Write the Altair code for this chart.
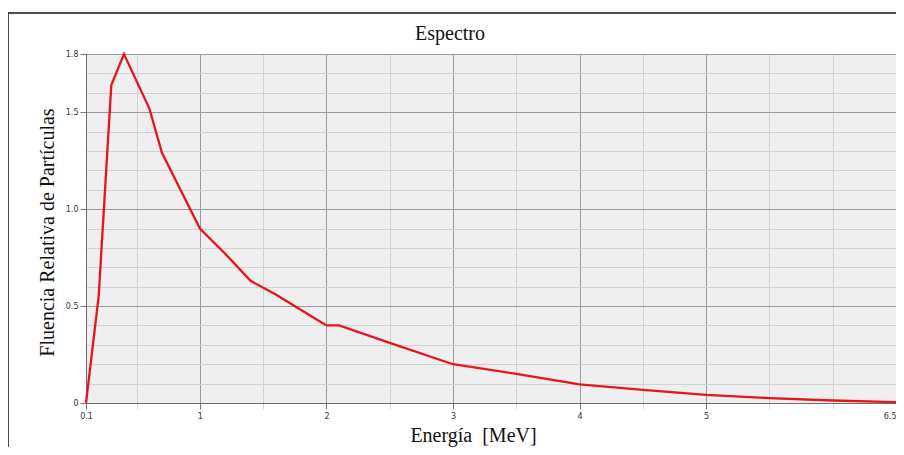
import altair as alt
import pandas as pd

# Spectrum values
energia = [0.1, 0.2, 0.3, 0.4, 0.6, 0.7, 1.0, 1.2, 1.4, 1.6, 1.8, 1.9, 2.0, 2.1,
           2.5, 3.0, 3.5, 4.0, 4.5, 5.0, 5.5, 6.0, 6.5]
fluencia = [0.0, 0.55, 1.64, 1.80, 1.52, 1.29, 0.90, 0.77, 0.63, 0.56, 0.48, 0.44, 0.40, 0.40,
            0.31, 0.20, 0.15, 0.096, 0.068, 0.042, 0.025, 0.013, 0.005]

# Axis ticks / grid positions
x_grid = [0.1, 0.5, 1, 1.5, 2, 2.5, 3, 3.5, 4, 4.5, 5, 5.5, 6, 6.5]
x_labels = [0.1, 1, 2, 3, 4, 5, 6.5]
y_grid = [0, 0.1, 0.2, 0.3, 0.4, 0.5, 0.6, 0.7, 0.8, 0.9, 1.0, 1.1, 1.2, 1.3,
          1.4, 1.5, 1.6, 1.7, 1.8]
y_labels = [0, 0.5, 1.0, 1.5, 1.8]
y_label_text = ["0", "0.5", "1.0", "1.5", "1.8"]

titulo = "Espectro"
titulo_x = "Energía\u00a0 [MeV]"
titulo_y = "Fluencia Relativa de Partículas"

df = pd.DataFrame({"Energia": energia, "Fluencia": fluencia})

x_major = "indexof(%s, datum.value) >= 0" % str(x_labels)
y_major = "indexof(%s, datum.value) >= 0" % str(y_labels)
y_label_expr = " : ".join(
    "datum.value == %s ? '%s'" % (v, t) for v, t in zip(y_labels, y_label_text)
) + " : ''"

x_axis = alt.Axis(
    values=x_grid,
    labelExpr=x_major + " ? toString(datum.value) : ''",
    title=titulo_x,
    titleFont="Liberation Serif", titleFontSize=20, titleFontWeight="normal",
    titleColor="#111111",
    titleX=387, titleY=38, titleBaseline="alphabetic", titleAlign="center",
    labelFont="DejaVu Sans", labelFontSize=8, labelColor="#333333",
    labelPadding=3, tickSize=6,
    labelAlign={"condition": {"test": "datum.value == 6.5", "value": "right"}, "value": "center"},
    gridColor={"condition": {"test": x_major, "value": "#9a9a9a"}, "value": "#d2d2d2"},
    tickColor={"condition": {"test": x_major, "value": "#777777"}, "value": "#d2d2d2"},
    domainColor="#6e6e6e", labelFlush=False, labelOverlap=False,
)

y_axis = alt.Axis(
    values=y_grid,
    labelExpr=y_label_expr,
    title=titulo_y,
    titleFont="Liberation Serif", titleFontSize=20, titleFontWeight="normal",
    titleColor="#111111",
    titleX=-33, titleY=178, titleBaseline="alphabetic", titleAlign="center", titleAngle=270,
    labelFont="DejaVu Sans", labelFontSize=8, labelColor="#333333",
    labelPadding=2, tickSize=6,
    gridColor={"condition": {"test": y_major, "value": "#9a9a9a"}, "value": "#d2d2d2"},
    tickColor={"condition": {"test": y_major, "value": "#777777"}, "value": "transparent"},
    domainColor="#6e6e6e", labelFlush=False, labelOverlap=False,
)

line = alt.Chart(df).mark_line(color="#e8141b", strokeWidth=2.3).encode(
    x=alt.X("Energia:Q", scale=alt.Scale(domain=[0.1, 6.5], nice=False, zero=False), axis=x_axis),
    y=alt.Y("Fluencia:Q", scale=alt.Scale(domain=[0, 1.8], nice=False), axis=y_axis),
)

frame_data = alt.Data(values=[{"k": 1}])
left_border = alt.Chart(frame_data).mark_rule(color="#111111", strokeWidth=1.5).encode(
    x=alt.value(-78), y=alt.value(-41), y2=alt.value(420)
)
top_border = alt.Chart(frame_data).mark_rule(color="#111111", strokeWidth=1.5).encode(
    x=alt.value(-78), x2=alt.value(830), y=alt.value(-41)
)
title_text = alt.Chart(frame_data).mark_text(
    text=titulo, font="Liberation Serif", fontSize=20, color="#111111",
    align="center", baseline="alphabetic",
).encode(x=alt.value(364), y=alt.value(-14))

chart = alt.layer(line, left_border, top_border, title_text).properties(
    width=810,
    height=349,
    autosize=alt.AutoSizeParams(type="none"),
    padding={"left": 78, "top": 46, "right": 0, "bottom": 44},
    background="white",
).configure_view(
    fill="#efefef", stroke="#9a9a9a", strokeWidth=1
)

chart.save("out.html", embed_options={"renderer": "svg", "actions": False})
